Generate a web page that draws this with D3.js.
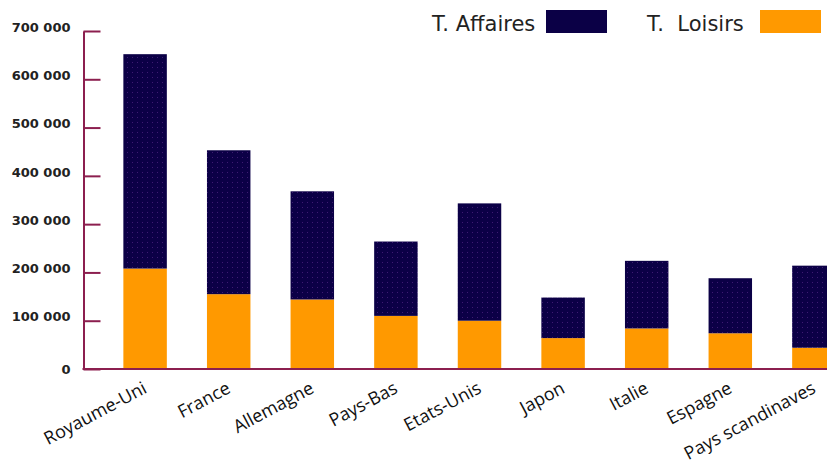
<!DOCTYPE html>
<html>
<head>
<meta charset="utf-8">
<script src="https://cdn.jsdelivr.net/npm/d3@7"></script>
<style>
  body { margin: 0; background: #fff; }
  svg { display: block; }
</style>
</head>
<body>
<div id="chart"></div>
<script>
// data
const categories = ['Royaume-Uni', 'France', 'Allemagne', 'Pays-Bas', 'Etats-Unis',
  'Japon', 'Italie', 'Espagne', 'Pays scandinaves']
const loisirs = [208000, 155000, 144000, 110000, 100000, 64000, 84000, 74000, 44000]
const affaires = [444000, 298000, 224000, 154000, 243000, 84000, 140000, 114000, 170000]
const yTicks = [0, 100000, 200000, 300000, 400000, 500000, 600000, 700000]
const seriesKeys = ['loisirs', 'affaires']
const seriesLabels = { affaires: 'T. Affaires', loisirs: 'T.\u00a0 Loisirs' }

const W = 827, H = 466
const axisColor = '#8c1f4f'

const rows = categories.map((c, i) => ({ cat: c, loisirs: loisirs[i], affaires: affaires[i] }))

const svg = d3.select('#chart').append('svg')
  .attr('width', W)
  .attr('height', H)

// dithered navy fill like the original gif
const defs = svg.append('defs')
const pat = defs.append('pattern')
  .attr('id', 'dots')
  .attr('width', 5).attr('height', 5)
  .attr('patternUnits', 'userSpaceOnUse')
pat.append('rect').attr('width', 5).attr('height', 5).attr('fill', '#0b0046')
pat.append('rect').attr('x', 2).attr('y', 2).attr('width', 1).attr('height', 1).attr('fill', '#3d1a72')

const color = { affaires: 'url(#dots)', loisirs: '#ff9900' }

// scales
const x = d3.scaleBand()
  .domain(categories)
  .range([103.3, 103.3 + 9 * 83.6])
  .paddingInner(0.48)
  .paddingOuter(0.24)

const y = d3.scaleLinear()
  .domain([0, 700000])
  .range([369, 31])

const stacked = d3.stack().keys(seriesKeys)(rows)

// bars
svg.append('g').selectAll('g')
  .data(stacked)
  .enter().append('g')
    .attr('fill', d => color[d.key])
  .selectAll('rect')
  .data(d => d)
  .enter().append('rect')
    .attr('x', d => x(d.data.cat))
    .attr('width', x.bandwidth())
    .attr('y', d => y(d[1]))
    .attr('height', d => y(d[0]) - y(d[1]))

// y axis
const fr = d3.formatLocale({ decimal: ',', thousands: ' ', grouping: [3], currency: ['', ' €'] })

const yAxis = svg.append('g')
  .attr('transform', 'translate(83.5,0)')
  .call(d3.axisLeft(y).tickValues(yTicks).tickFormat(fr.format(','))
    .tickSizeInner(-17).tickSizeOuter(0).tickPadding(13))
yAxis.select('.domain').attr('stroke', axisColor).attr('stroke-width', 2)
yAxis.selectAll('.tick line').attr('stroke', axisColor).attr('stroke-width', 2)
yAxis.selectAll('.tick text')
  .attr('fill', '#222')
  .style('font-family', '"DejaVu Sans", sans-serif')
  .style('font-size', '13px')
  .style('font-weight', 'bold')
  .attr('y', d => d === 0 ? 0 : -4)

// baseline
svg.append('line')
  .attr('x1', 82.5).attr('x2', W)
  .attr('y1', y(0)).attr('y2', y(0))
  .attr('stroke', axisColor)
  .attr('stroke-width', 2)

// category labels
svg.append('g').selectAll('text')
  .data(categories)
  .enter().append('text')
    .attr('transform', d => 'translate(' + (x(d) + x.bandwidth() / 2 + 3) + ',392) rotate(-28)')
    .attr('text-anchor', 'end')
    .attr('fill', '#111')
    .style('font-family', '"Open Sans", sans-serif')
    .style('font-size', '18px')
    .text(d => d)

// legend
const legendItems = [
  { key: 'affaires', tx: 432, sx: 546 },
  { key: 'loisirs', tx: 647, sx: 760 }
]
const legend = svg.append('g').selectAll('g')
  .data(legendItems)
  .enter().append('g')
legend.append('text')
  .attr('x', d => d.tx)
  .attr('y', 31)
  .attr('fill', '#222')
  .style('font-family', '"DejaVu Sans", sans-serif')
  .style('font-size', '21px')
  .text(d => seriesLabels[d.key])
legend.append('rect')
  .attr('x', d => d.sx)
  .attr('y', 10)
  .attr('width', 61)
  .attr('height', 23)
  .attr('fill', d => d.key === 'affaires' ? '#0b0046' : '#ff9900')
</script>
</body>
</html>
